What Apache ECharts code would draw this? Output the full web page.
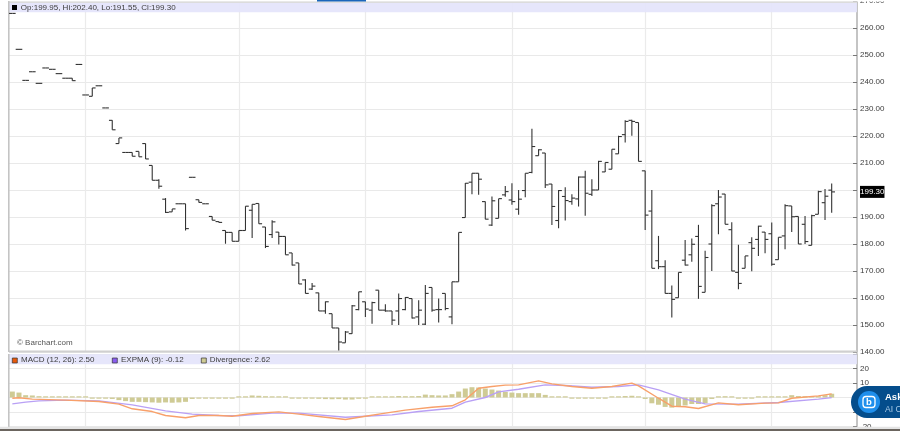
<!DOCTYPE html>
<html><head><meta charset="utf-8">
<style>html,body{margin:0;padding:0;background:#fff}#c{width:900px;height:431px}</style>
<script src="https://cdn.jsdelivr.net/npm/echarts@6/dist/echarts.min.js"></script>
</head><body><div id="c"></div>
<script>
const opens=[265.4,252.1,240.6,243.8,239.5,245.2,244.7,243.1,241.4,241.4,
246.5,235.2,234.7,238.6,230.4,225.8,217.2,213.9,213.9,214.3,
217.2,209.1,203.6,196.6,191.9,194.9,194.9,204.7,196.4,194.9,
190.2,188.3,185,184.3,181,185,192.5,195,186.3,183.5,
184.4,182.8,176.7,173,166.7,163.3,161.9,155.2,154.2,148.9,
143.4,146.8,155.7,158.6,155.5,162.9,155.5,155.2,155.2,155.7,
159.8,153,150.3,163.9,155.7,161.7,153,166,189.8,202.9,
206.2,195.7,187,189.5,198.2,196.3,192.9,199.8,206.5,212.7,
213.7,202.2,188.7,197.6,195.7,196.7,204.8,198.4,200,206.7,
207.7,213.4,220.5,225.8,225,207.1,192.2,173.8,171.6,161.7,
160.1,174,176,182.8,162.1,180,194.9,198.5,185.3,169.5,
171,180.5,181.7,184.4,183.8,174.2,183,194.1,190.2,187.3,
179.5,191,195.3,199.95];
const highs=[265.4,252.1,240.6,243.8,239.5,245.2,244.7,243.1,241.4,241.4,
246.5,235.2,237.8,238.6,230.4,225.8,219.3,213.9,213.9,214.3,
217.2,209.1,204,197,193,194.9,194.9,204.7,196.4,194.9,
190.2,188.3,185,184.3,185,194,194.7,195,186.3,188.8,
184.4,182.8,176.7,173,166.9,165.6,161.9,158.7,154.2,148.9,
147.8,157.4,162.3,158.6,158.6,162.9,157.7,155.2,161.7,160.4,
159.8,159.2,164.8,163.9,159.8,161.7,166,184.3,202.6,206.2,
206.2,195.7,197.6,196.8,201.5,202.5,200,206.2,222.7,215.1,
213.7,202.2,200,201,198.4,205,207.1,204,210.8,210.2,
215.1,220.1,225.8,226,225,207.1,200,183,174,164.6,
169.5,181.5,182,187.1,177.5,194.7,200,198.5,188.1,179.7,
175.6,182.5,186.8,184.4,188,182.5,194.7,194.1,190.2,190.4,
190.8,199.7,200.4,202.4];
const lows=[265.4,252.1,240.6,243.8,239.5,245.2,244.7,243.1,241.4,240.5,
246.5,235.2,234.7,238.6,230.4,222.3,217.2,213.9,212.5,212.3,
211.5,203.6,200.5,191.5,191.9,194.9,185,204.7,195.4,194.9,
188.8,188,180.1,181,181,185,182.2,187.5,178.5,182.2,
179.8,176,172,165.2,161.7,163,155.2,154.2,148.9,140.6,
143.4,146.8,155.5,153,150.5,155.5,154.9,150,150,155.5,
152.4,150,150,154.9,150.9,155.5,150.3,166,189.8,198.4,
198.2,189.2,186.7,189.5,197.5,194.5,190.8,197.3,206.2,212.7,
200.7,187,185.8,188.7,194.5,193.9,190.5,197.8,200,206.7,
207.7,213.4,217.6,220.1,210.6,185.2,171,170.7,161.7,152.8,
160.1,172,173.4,159.7,162.1,170,183.6,187.3,169.9,163.2,
171,169.9,175.6,176.6,171.9,174.2,178.1,184.4,180,180,
179.5,191,188.9,191.55];
const closes=[265.4,252.1,240.6,243.8,239.5,245.2,244.7,243.1,241.4,240.5,
246.5,235.2,237.8,238.6,230.4,222.3,219.3,213.9,212.5,212.3,
211.5,203.6,201.4,191.7,193,194.9,185.7,204.7,195.4,194.9,
188.8,188,184.3,181,185,194,194.7,187.5,179.1,188.2,
182.8,176,172.2,165.2,161.7,164.4,155.2,158.6,148.9,143.7,
147.4,157.1,162.3,155.9,158.3,155.5,155.2,151.8,159.8,160.2,
152.6,155.5,161.7,155.5,155.7,156.1,166,184.3,202.5,206.2,
204,189.2,196,196.8,199.4,195.7,196.6,206.2,216.1,214.9,
201.9,193.9,199.8,196.1,197,204.8,198.8,200,210.6,210.2,
215.1,219.8,225.4,225.4,210.6,190.7,171,171.6,161.7,159.5,
169.5,172.2,179.9,164.3,175,194.2,197.4,187.3,170,165.4,
175.6,178.4,186.6,181.7,172.5,182.5,194.2,190.1,180,180.9,
190.5,199.4,197.7,199.3];
const divergence=[4.1,3.4,1.6,1.4,0.9,0.7,0.7,0.5,0.5,0.2,
0.7,0.2,-0.1,-0.3,-0.5,-1,-1.8,-2.5,-3,-3,
-3.2,-3.4,-3.6,-3.4,-3.6,-3.4,-3,-1,-0.7,-0.5,
-0.3,-0.3,-0.5,-0.2,0.1,0.7,1.4,1.2,0.9,0.7,
0.7,0.2,-0.1,-0.2,-0.4,-0.7,-0.9,-1.1,-1.2,-1.1,
-1.4,-1.4,-0.9,-0.3,0.1,0.3,0.5,0.7,1,0.9,
0.9,1,2,1.6,1.4,1.4,2.3,4.1,6.2,7.1,
6.9,6.2,5.5,4.8,3.9,3.4,3,3,3,3,
1.8,0.2,0.1,0.1,-0.5,-0.5,-0.4,-0.3,-0.2,-0.2,
0.1,0.3,1,1.2,0.7,-1,-4,-5,-6.5,-7,
-6.5,-5.5,-4.5,-4.5,-4,-1,0.3,0.9,0.3,-0.1,
-0.2,-0.2,0.3,0.7,0.7,0.3,0.5,1.6,1,0.9,
0.7,0.9,1.6,2.6];
const macdBars=[0,1,3,8,13,16,18,21,23,26,28,31,33,36,40,43,46,50,53,56,59,63,66,68,70,72,74,76,79,81,84,87,90,93,94,97,99,101,103,106,109,113,115,117,121,123];
const macdVals=[-0.5,-0.2,-1.1,-1.8,-2.8,-4.6,-7.8,-9.7,-12.4,-14,-12.4,-12.4,-12.9,-11,-9.9,-11.5,-13.1,-15.2,-12.9,-10.8,-8.7,-6.7,-5.7,-1.6,6.4,7.6,8.5,8.7,11.5,9.4,7.6,6.4,7.6,9.9,8,-0.5,-6,-6.4,-7.6,-3.7,-5,-3.9,-3.7,-0.5,1.1,2.5];
const expmaBars=[0,2,4,8,13,18,23,27,31,34,39,43,50,57,61,66,68,71,73,76,80,83,87,91,94,97,101,104,109,115,121,123];
const expmaVals=[-4.4,-3.2,-2.3,-1.8,-2.3,-5.1,-9.2,-11.5,-12.4,-12.6,-10.8,-10.8,-13.6,-12,-9.7,-7.4,-3.2,0,3.9,5.7,8.7,8.3,7.1,7.6,8.7,5.3,-1.1,-4.4,-4.6,-3.4,-1.1,-0.12];
const monthBars=[11,34,53,75,95,114];
const lastPrice=199.3;
const headerText='Op:199.95, Hi:202.40, Lo:191.55, Cl:199.30';
const legendTexts=['MACD (12, 26): 2.50','EXPMA (9): -0.12','Divergence: 2.62'];

const chart=echarts.init(document.getElementById('c'),null,{renderer:'canvas'});
const FONT='"Liberation Sans",Arial,sans-serif';
const GRIDC='#e9e9e9';
const xBase={type:'value',min:-0.5,max:126.8,axisLine:{show:false},axisLabel:{show:false},
  axisTick:{show:false,customValues:monthBars},
  splitLine:{show:true,lineStyle:{color:'#ebebeb',width:1.2}}};
const yBase={type:'value',position:'right',scale:false,
  axisLine:{show:true,onZero:false,lineStyle:{color:'#c4c4c4',width:2}},
  axisTick:{show:true,inside:true,length:4,lineStyle:{color:'#777',width:1}},
  splitLine:{show:true,lineStyle:{color:GRIDC,width:1.2}}};
function rect(x,y,w,h,fill,z,stroke){return {type:'rect',silent:true,z:z,shape:{x,y,width:w,height:h},style:{fill,stroke:stroke||null,lineWidth:stroke?0.7:0}};}
function txt(x,y,t,size,fill,z,weight){return {type:'text',silent:true,z:z,x,y,style:{text:t,font:(weight||'normal')+' '+size+'px '+FONT,fill,textVerticalAlign:'middle'}};}
chart.setOption({
  animation:false,backgroundColor:'#fff',
  grid:[{left:9,right:43,top:1,height:351,outerBoundsMode:'none'},{left:9,right:43,top:354,height:72.5,outerBoundsMode:'none'}],
  xAxis:[Object.assign({gridIndex:0},xBase),Object.assign({gridIndex:1},xBase)],
  yAxis:[
    Object.assign({gridIndex:0,min:140,max:270,interval:10,
      axisLabel:{show:true,margin:3,fontSize:8,color:'#3c3c3c',fontFamily:FONT,formatter:v=>v.toFixed(2),showMinLabel:true,showMaxLabel:true},
      axisPointer:{show:true,value:lastPrice,status:'show',type:'line',lineStyle:{opacity:0},
        label:{show:true,formatter:()=>lastPrice.toFixed(2),backgroundColor:'#000',color:'#fff',fontSize:8,fontFamily:FONT,padding:[2,0],margin:3,borderRadius:0}}},yBase),
    Object.assign({gridIndex:1,min:-20,max:30,interval:10,
      axisLabel:{show:true,margin:3,fontSize:8,color:'#3c3c3c',fontFamily:FONT,formatter:v=>v===30?'':String(v)}},yBase)
  ],
  series:[
    {type:'custom',xAxisIndex:0,yAxisIndex:0,z:3,clip:false,silent:true,
     data:opens.map((o,i)=>[i,o,highs[i],lows[i],closes[i]]),
     encode:{x:0,y:[1,2,3,4]},
     renderItem:(p,api)=>{
       const x=api.coord([api.value(0),api.value(1)])[0];
       const yo=api.coord([0,api.value(1)])[1],yh=api.coord([0,api.value(2)])[1],
             yl=api.coord([0,api.value(3)])[1],yc=api.coord([0,api.value(4)])[1];
       const st={stroke:'#333',lineWidth:1.1,fill:null};
       return {type:'group',children:[
         {type:'line',shape:{x1:x,y1:yh,x2:x,y2:yl},style:st},
         {type:'line',shape:{x1:x-3.3,y1:yo,x2:x,y2:yo},style:st},
         {type:'line',shape:{x1:x,y1:yc,x2:x+3.3,y2:yc},style:st}
       ]};
     }},
    {type:'bar',name:'Divergence',xAxisIndex:1,yAxisIndex:1,z:2,barWidth:5,barMinHeight:1.2,silent:true,
     itemStyle:{color:'#cfcb95'},data:divergence.map((v,i)=>[i,v])},
    {type:'line',name:'EXPMA',xAxisIndex:1,yAxisIndex:1,z:3,symbol:'none',silent:true,
     lineStyle:{color:'#b9a0f5',width:1.4},data:expmaBars.map((b,i)=>[b,expmaVals[i]])},
    {type:'line',name:'MACD',xAxisIndex:1,yAxisIndex:1,z:4,symbol:'none',silent:true,
     lineStyle:{color:'#f8a06a',width:1.4},data:macdBars.map((b,i)=>[b,macdVals[i]])}
  ],
  graphic:{elements:[
    rect(0,0,900,1.5,'#fff',1),
    rect(9,1.5,848,1.5,'#dcdcdc',1),
    rect(9,3,848,9.3,'rgba(228,228,251,0.92)',1),
    rect(317,0,49,1.6,'#1a66bb',2),
    rect(8,1,1.6,351,'#c4c4c4',2),
    rect(8,354,1.6,73,'#c4c4c4',2),
    rect(9,350.5,848,2,'#d0d0d0',1),
    rect(9,354.3,848,10,'rgba(228,228,251,0.92)',1),
    rect(12,5,5,5,'#000',5),
    txt(20.8,7.5,headerText,8,'#3c3c3c',5),
    txt(17,342.5,'© Barchart.com',8,'#555',5),
    rect(12.3,358,5,5,'#e8590c',5,'#333'),
    txt(21,360,legendTexts[0],8,'#3c3c3c',5),
    rect(112.3,358,5,5,'#8a5cf0',5,'#333'),
    txt(121,360,legendTexts[1],8,'#3c3c3c',5),
    rect(201.3,358,5,5,'#cfcb95',5,'#333'),
    txt(209.7,360,legendTexts[2],8,'#3c3c3c',5),
    rect(0,427,900,4,'#fff',6),
    rect(0,426.8,900,2.2,'#e4e4e4',6),
    rect(0,429,900,2,'#6b655f',6),
    {type:'rect',silent:true,z:8,shape:{x:851,y:386,width:70,height:32,r:16},style:{fill:'#044d8c'}},
    {type:'circle',silent:true,z:9,shape:{cx:869,cy:402,r:11},style:{fill:'#1f8fec'}},
    {type:'rect',silent:true,z:10,shape:{x:863,y:396.5,width:12,height:11,r:3},style:{fill:'none',stroke:'#fff',lineWidth:1.3}},
    txt(866,402.3,'b',9.5,'#fff',10,'bold'),
    txt(885,397,'Ask',9.5,'#fff',10,'bold'),
    txt(885,409.5,'AI C',8.5,'#a9cbe8',10)
  ]}
});
</script></body></html>
